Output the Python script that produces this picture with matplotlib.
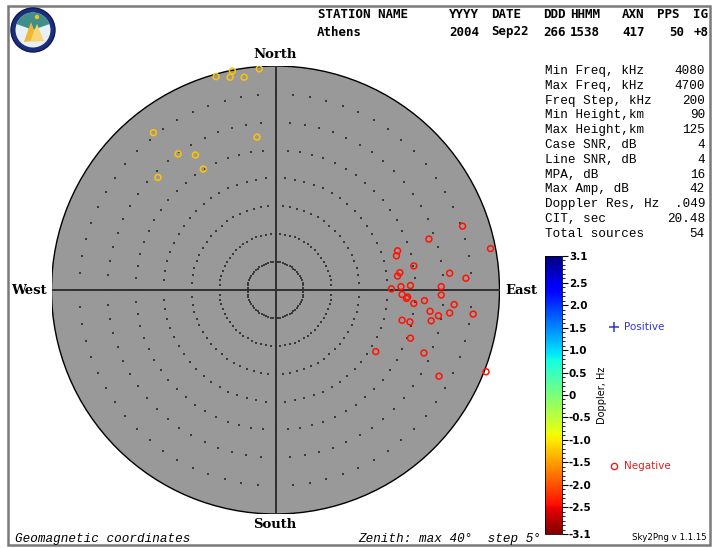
import numpy as np
import matplotlib.pyplot as plt
from matplotlib.patches import Circle, Rectangle, Polygon, Wedge
import matplotlib.colors as mcolors
import matplotlib.cm as cm

# sky map sources: east / north offsets in degrees of zenith angle
east_deg = [33.4, 27.4, 38.4, 21.8, 21.6, 24.7, 31.1, 22.2, 21.8, 34.0, 22.4,
            24.1, 29.6, 20.7, 22.6, 23.6, 23.4, 29.6, 24.7, 26.6, 31.9, 27.6,
            31.1, 35.3, 29.1, 22.6, 24.0, 27.8, 24.1, 17.9, 26.5, 29.2, 37.6,
            -7.7, -2.9, -10.6, -8.1, -5.6, -21.8, -3.3, -17.4, -14.3, -12.9, -21.0]
north_deg = [11.4, 9.1, 7.4, 7.0, 6.1, 4.3, 3.0, 3.1, 2.5, 2.1, 0.6,
             0.8, 0.6, 0.2, -0.8, -1.25, -1.5, -0.9, -2.4, -1.9, -2.6, -3.8,
             -4.1, -4.3, -4.6, -5.4, -5.7, -5.5, -8.6, -11.0, -11.25, -15.4, -14.6,
             39.1, 39.5, 38.1, 38.0, 38.0, 28.1, 27.3, 24.3, 24.1, 21.6, 20.1]
doppler_hz = [-2.4] * 33 + [-1.25] * 11

header_cols = ["STATION NAME", "YYYY", "DATE", "DDD", "HHMM", "AXN", "PPS", "IG"]
header_vals = ["Athens", "2004", "Sep22", "266", "1538", "417", "50", "+8"]
param_names = ["Min Freq, kHz", "Max Freq, kHz", "Freq Step, kHz", "Min Height,km",
               "Max Height,km", "Case SNR, dB", "Line SNR, dB", "MPA, dB",
               "Max Amp, dB", "Doppler Res, Hz", "CIT, sec", "Total sources"]
param_vals = ["4080", "4700", "200", "90", "125", "4", "4", "16", "42",
              ".049", "20.48", "54"]
cbar_ticks = [3.1, 2.5, 2.0, 1.5, 1.0, 0.5, 0, -0.5, -1.0, -1.5, -2.0, -2.5, -3.1]
cbar_labels = ["3.1", "2.5", "2.0", "1.5", "1.0", "0.5", "0", "-0.5", "-1.0",
               "-1.5", "-2.0", "-2.5", "-3.1"]
zenith_max = 40
zenith_step = 5

W, H = 720, 548
fig = plt.figure(figsize=(W / 100, H / 100), dpi=100)

# pixel overlay for frame and texts
ov = fig.add_axes([0, 0, 1, 1])
ov.set_xlim(0, W)
ov.set_ylim(H, 0)
ov.axis("off")
ov.add_patch(Rectangle((8, 6), 702, 539, fill=False, ec="#7a7a7a", lw=1.8))

mono = "Liberation Mono"
bold_mono = dict(family="DejaVu Sans Mono", weight="bold", fontsize=9.0, va="center")

# header
col_x = [318, 449, 491, 543, 570, 622, 657, 693]
for x, t in zip(col_x, header_cols):
    ov.text(x, 15, t, **bold_mono)
val_x = [317, 449, 491, 543, 570, 622, 684, 709]
for i, (x, t) in enumerate(zip(val_x, header_vals)):
    ha = "right" if i >= 6 else "left"
    ov.text(x, 32, t, ha=ha, **bold_mono)

# logo
ov.add_patch(Circle((33, 30), 22, fc="#1c2f7a", ec="#0d1a55", lw=1))
ov.add_patch(Circle((33, 30), 17.5, fc="#e8f0fa", ec="none"))
ov.add_patch(Wedge((33, 30), 17.5, 200, 340, fc="#3f8f8a", ec="none"))
ov.add_patch(Polygon([[24, 42], [31, 22], [38, 40]], fc="#f2b632", ec="none"))
ov.add_patch(Polygon([[30, 42], [37, 24], [44, 41]], fc="#f7d774", ec="none"))
ov.add_patch(Circle((37, 17), 2.2, fc="#f4c21a", ec="none"))

# compass labels
cmp = dict(family="DejaVu Serif", weight="bold", fontsize=9.5, va="center")
ov.text(275, 55, "North", ha="center", **cmp)
ov.text(275, 524, "South", ha="center", **cmp)
ov.text(11, 290, "West", ha="left", **cmp)
ov.text(505, 290, "East", ha="left", **cmp)

# parameter panel
for i, (n, v) in enumerate(zip(param_names, param_vals)):
    y = 71 + i * 14.8
    ov.text(545, y, n, family=mono, fontsize=9.1, va="center")
    ov.text(705, y, v, family=mono, fontsize=9.1, va="center", ha="right")

# footer
ov.text(15, 539, "Geomagnetic coordinates", family=mono, style="italic",
        fontsize=9.1, va="center")
ov.text(358, 539, "Zenith: max %d\u00b0  step %d\u00b0" % (zenith_max, zenith_step),
        family=mono, style="italic", fontsize=9.1, va="center")
ov.text(707, 537, "Sky2Png v 1.1.15", family="DejaVu Sans", fontsize=6.2,
        va="center", ha="right")

# legend entries
ov.plot([614], [327], marker="+", ms=7, mew=1.1, color="#3333dd", ls="none")
ov.text(624, 327, "Positive", color="#3333dd", family="DejaVu Sans",
        fontsize=7.5, va="center")
ov.plot([614], [466], marker="o", ms=4.5, mew=1.0, mfc="none", mec="#e02020", ls="none")
ov.text(624, 466, "Negative", color="#e02020", family="DejaVu Sans",
        fontsize=7.5, va="center")
ov.text(602, 395, "Doppler, Hz", rotation=90, family="DejaVu Sans",
        fontsize=7, va="center", ha="center")

# sky disk
cx, cy, rad = 275.5, 290, 224
ax = fig.add_axes([(cx - rad) / W, (H - cy - rad) / H, 2 * rad / W, 2 * rad / H])
ax.set_xlim(-zenith_max, zenith_max)
ax.set_ylim(-zenith_max, zenith_max)
ax.axis("off")
ax.add_patch(Circle((0, 0), zenith_max, fc="#999999", ec="black", lw=1.0))
ax.plot([-zenith_max, zenith_max], [0, 0], color="#303030", lw=1.4)
ax.plot([0, 0], [-zenith_max, zenith_max], color="#303030", lw=1.4)

az = np.radians(np.arange(0, 360, 5))
for r in range(zenith_step, zenith_max, zenith_step):
    ax.scatter(r * np.sin(az), r * np.cos(az), s=0.9, marker="s",
               color="#3a3a3a", linewidths=0)

cmap = plt.get_cmap("jet_r")
norm = mcolors.Normalize(vmin=-3.1, vmax=3.1)
ax.scatter(east_deg, north_deg, s=18, facecolors="none",
           edgecolors=cmap(norm(np.array(doppler_hz))), linewidths=1.1, zorder=5)

# doppler colour bar
cax = fig.add_axes([545 / W, (H - 534) / H, 17 / W, 278 / H])
sm = cm.ScalarMappable(norm=norm, cmap=cmap)
cb = fig.colorbar(sm, cax=cax, orientation="vertical")
cb.outline.set_linewidth(0.6)
cb.set_ticks(cbar_ticks)
cb.set_ticklabels(cbar_labels)
cax.set_yticks(np.arange(-3.1, 3.11, 0.1), minor=True)
cax.tick_params(which="major", length=4, width=0.8, labelsize=7.5, pad=1)
cax.tick_params(which="minor", length=2.5, width=0.6)
for lbl in cax.get_yticklabels():
    lbl.set_fontweight("bold")

fig.savefig("out.png", dpi=100)
